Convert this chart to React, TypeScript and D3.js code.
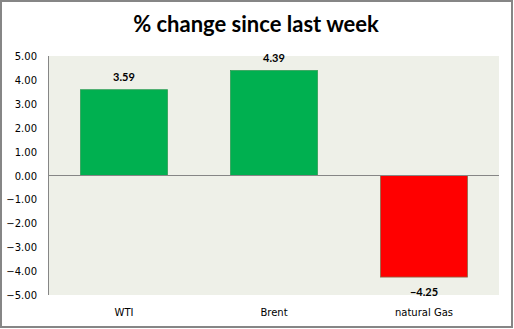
import React from "react";
import * as d3 from "d3";

const categories = ["WTI", "Brent", "natural Gas"];
const values = [3.59, 4.39, -4.25];
const yTicks = [5, 4, 3, 2, 1, 0, -1, -2, -3, -4, -5];
const title = "% change since last week";

export default function App() {
  const W = 514, H = 329;
  const left = 49, right = 499, top = 56, bottom = 295;
  const x = d3.scaleBand<string>().domain(categories).range([left, right]).paddingInner(0.42).paddingOuter(0.21);
  const y = d3.scaleLinear().domain([-5, 5]).range([bottom, top]);
  const fmt = d3.format(".2f");
  return (
    <svg width={W} height={H} style={{ position: "absolute", left: 0, top: 0 }}>
      <rect x={0} y={0} width={W} height={H} fill="#fff" />
      <rect x={1} y={1} width={511} height={326} fill="#fff" stroke="#868686" strokeWidth={2} />
      <text x={256} y={32} textAnchor="middle" fontFamily="Lato, 'Open Sans', sans-serif" fontWeight={700} fontSize={22} fill="#000">{title}</text>
      <rect x={left} y={top} width={right - left} height={bottom - top} fill="#EEF0E8" />
      {yTicks.map((t) => (
        <text key={t} x={37} y={y(t) + 4} textAnchor="end" fontFamily="'DejaVu Sans', Verdana, sans-serif" fontSize={10} fill="#000">{fmt(t)}</text>
      ))}
      {categories.map((c, i) => {
        const v = values[i];
        const y0 = y(Math.max(0, v));
        const h = Math.abs(y(v) - y(0));
        return (
          <g key={c}>
            <rect x={x(c)!} y={y0} width={x.bandwidth()} height={h} fill={v >= 0 ? "#00B050" : "#FF0000"} stroke={v >= 0 ? "#2E9E55" : "#8C6A4A"} strokeWidth={0.8} />
            <text x={x(c)! + x.bandwidth() / 2} y={v >= 0 ? y(v) - 9 : y(v) + 19} textAnchor="middle" fontFamily="Lato, 'Open Sans', sans-serif" fontWeight={700} fontSize={11} fill="#000">{fmt(v)}</text>
            <text x={x(c)! + x.bandwidth() / 2} y={316} textAnchor="middle" fontFamily="'DejaVu Sans', Verdana, sans-serif" fontSize={10} fill="#000">{c}</text>
          </g>
        );
      })}
      <line x1={left} x2={right} y1={y(0)} y2={y(0)} stroke="#868686" strokeWidth={1} />
      <line x1={left - 0.5} x2={left - 0.5} y1={top} y2={bottom} stroke="#868686" strokeWidth={1} />
    </svg>
  );
}
